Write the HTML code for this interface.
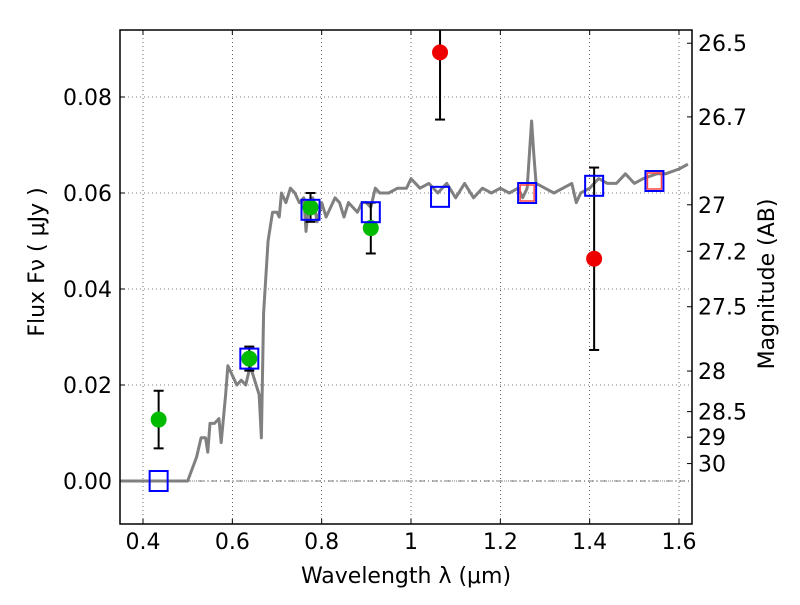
<!DOCTYPE html>
<html><head><meta charset="utf-8"><style>
body{margin:0;background:#fff;}
svg text{font-family:"DejaVu Sans","Liberation Sans",sans-serif;}
</style></head><body>
<svg id="c" width="800" height="600" xmlns="http://www.w3.org/2000/svg"></svg>
<script>
const specW=[0.35,0.49,0.5,0.52,0.53,0.54,0.545,0.55,0.56,0.57,0.575,0.585,0.59,0.6,0.61,0.62,0.63,0.64,0.65,0.66,0.665,0.67,0.68,0.69,0.7,0.705,0.71,0.72,0.73,0.74,0.75,0.76,0.765,0.77,0.78,0.79,0.8,0.81,0.82,0.83,0.84,0.85,0.86,0.87,0.88,0.89,0.9,0.91,0.92,0.93,0.95,0.97,0.99,1.0,1.02,1.04,1.06,1.08,1.1,1.12,1.14,1.16,1.18,1.2,1.22,1.24,1.25,1.26,1.265,1.27,1.275,1.28,1.3,1.32,1.34,1.36,1.37,1.38,1.4,1.42,1.44,1.46,1.48,1.5,1.52,1.55,1.57,1.6,1.62];
const specF=[0,0,0,0.005,0.009,0.009,0.006,0.012,0.012,0.013,0.008,0.018,0.024,0.022,0.020,0.021,0.020,0.024,0.021,0.018,0.009,0.035,0.050,0.056,0.056,0.055,0.060,0.058,0.061,0.060,0.058,0.059,0.052,0.057,0.059,0.054,0.058,0.055,0.057,0.059,0.058,0.055,0.058,0.057,0.056,0.058,0.058,0.057,0.061,0.060,0.060,0.061,0.061,0.063,0.061,0.062,0.060,0.062,0.059,0.062,0.059,0.061,0.060,0.061,0.060,0.061,0.059,0.061,0.068,0.075,0.068,0.062,0.061,0.060,0.061,0.062,0.058,0.060,0.061,0.063,0.062,0.062,0.064,0.062,0.063,0.064,0.064,0.065,0.066];
const greenW=[0.435,0.638,0.775,0.91];
const greenF=[0.0128,0.0255,0.057,0.0527];
const greenE=[0.006,0.0025,0.003,0.0053];
const redW=[1.065,1.41];
const redF=[0.0893,0.0463];
const redE=[0.014,0.019];
const sqW=[0.435,0.638,0.775,0.91,1.065,1.26,1.41,1.545];
const sqF=[0.0,0.0255,0.0565,0.056,0.0592,0.060,0.0615,0.0625];
const rsqW=[1.26,1.545];
const rsqF=[0.060,0.0625];
const xTicks=[0.4,0.6,0.8,1.0,1.2,1.4,1.6];
const xLabels=["0.4","0.6","0.8","1","1.2","1.4","1.6"];
const yTicks=[0,0.02,0.04,0.06,0.08];
const yLabels=["0.00","0.02","0.04","0.06","0.08"];
const magTicks=[26.5,26.7,27,27.2,27.5,28,28.5,29,30];
const magLabels=["26.5","26.7","27","27.2","27.5","28","28.5","29","30"];

const L=120,R=692,T=30,B=524;
const X=w=>143+(w-0.4)*446.67;
const Y=v=>481-v*4800;
const svg=document.getElementById('c');
const NS='http://www.w3.org/2000/svg';
function mk(tag,a,name,parent){const e=document.createElementNS(NS,tag);for(const k in a)e.setAttribute(k,a[k]);


(parent||svg).appendChild(e);return e;}
const clip=mk('clipPath',{id:'pc'},'plot-clip');mk('rect',{x:L,y:T,width:R-L,height:B-T},'clip-rect',clip);
xTicks.forEach((t,i)=>{mk('line',{x1:X(t),x2:X(t),y1:T,y2:B,stroke:'#000','stroke-width':0.6,'stroke-dasharray':'1,3'},'x-grid');
mk('line',{x1:X(t),x2:X(t),y1:B,y2:B-5,stroke:'#000'},'x-tick');mk('line',{x1:X(t),x2:X(t),y1:T,y2:T+5,stroke:'#000'},'x-tick-top');
const tx=mk('text',{x:X(t),y:B+25,'font-size':22,'text-anchor':'middle'},'x-tick-label');tx.textContent=xLabels[i];});
yTicks.forEach((t,i)=>{mk('line',{x1:L,x2:R,y1:Y(t),y2:Y(t),stroke:'#000','stroke-width':0.6,'stroke-dasharray':'1,3'},'y-grid');
mk('line',{x1:L,x2:L+5,y1:Y(t),y2:Y(t),stroke:'#000'},'y-tick');
const tx=mk('text',{x:L-8,y:Y(t)+8,'font-size':22,'text-anchor':'end'},'y-tick-label');tx.textContent=yLabels[i];});
mk('line',{x1:L,x2:R,y1:Y(0),y2:Y(0),stroke:'#000','stroke-width':0.6,'stroke-dasharray':'6,3,1,3'},'zero-line');
const g=mk('g',{'clip-path':'url(#pc)'},'plot-area');
mk('polyline',{points:specW.map((w,i)=>X(w)+','+Y(specF[i])).join(' '),fill:'none',stroke:'#808080','stroke-width':3,'stroke-linejoin':'round'},'model-spectrum',g);
function eb(w,f,e,name){const x=X(w);mk('line',{x1:x,x2:x,y1:Y(f+e),y2:Y(f-e),stroke:'#000','stroke-width':2},name,g);
[f+e,f-e].forEach(v=>mk('line',{x1:x-5,x2:x+5,y1:Y(v),y2:Y(v),stroke:'#000','stroke-width':2},name+'-cap',g));}
greenW.forEach((w,i)=>eb(w,greenF[i],greenE[i],'green-errorbar'));
redW.forEach((w,i)=>eb(w,redF[i],redE[i],'red-errorbar'));
greenW.forEach((w,i)=>mk('circle',{cx:X(w),cy:Y(greenF[i]),r:8,fill:'#00bb00'},'detection-point',g));
redW.forEach((w,i)=>mk('circle',{cx:X(w),cy:Y(redF[i]),r:8,fill:'#ee0000'},'upper-limit-point',g));
sqW.forEach((w,i)=>mk('rect',{x:X(w)-9,y:Y(sqF[i])-10,width:18,height:20,fill:'none',stroke:'#0000ff','stroke-width':2},'model-flux-square',g));
rsqW.forEach((w,i)=>mk('rect',{x:X(w)-7,y:Y(rsqF[i])-8,width:14,height:16,fill:'none',stroke:'#ff4444','stroke-width':1.5},'red-model-square',g));
magTicks.forEach((m,i)=>{const y=Y(Math.pow(10,(23.9-m)/2.5));
mk('line',{x1:R-5,x2:R,y1:y,y2:y,stroke:'#000'},'mag-tick');
const tx=mk('text',{x:R+6,y:y+8,'font-size':22},'mag-tick-label');tx.textContent=magLabels[i];});
mk('rect',{x:L,y:T,width:R-L,height:B-T,fill:'none',stroke:'#000','stroke-width':1.5},'plot-frame');
let t=mk('text',{x:406,y:583,'font-size':22,'text-anchor':'middle'},'x-axis-title');t.textContent='Wavelength  λ (μm)';
t=mk('text',{x:0,y:0,'font-size':22,'text-anchor':'middle',transform:'translate(44,262) rotate(-90)'},'y-axis-title');t.textContent='Flux  Fν  ( μJy )';
t=mk('text',{x:0,y:0,'font-size':22,'text-anchor':'middle',transform:'translate(774,284) rotate(-90)'},'right-axis-title');t.textContent='Magnitude (AB)';
</script>
</body></html>
